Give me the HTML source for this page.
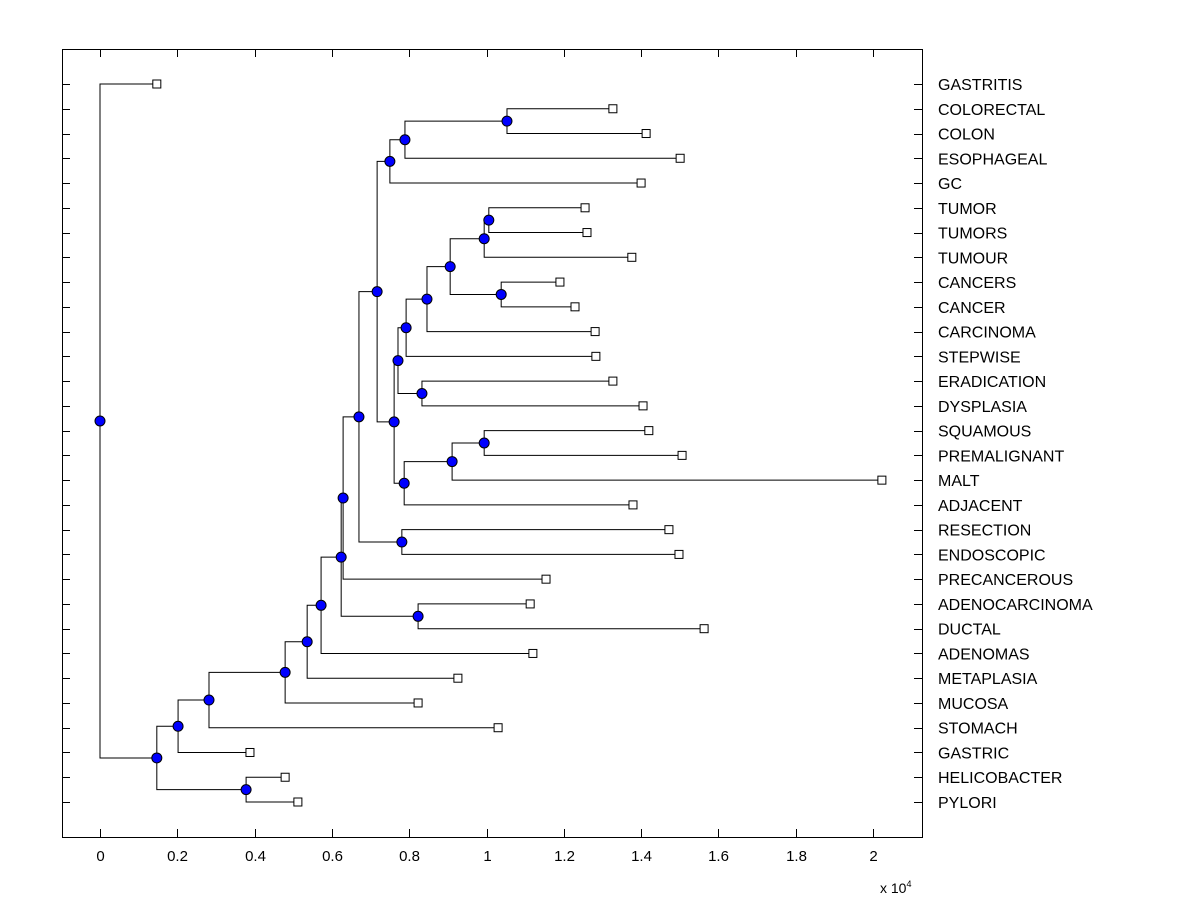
<!DOCTYPE html>
<html><head><meta charset="utf-8"><style>
body{margin:0;background:#fff}
svg text{font-family:"Liberation Sans",Arial,sans-serif}
</style></head><body>
<svg id="c" width="1200" height="900" xmlns="http://www.w3.org/2000/svg"></svg>
<script>
const leafNames=["GASTRITIS","COLORECTAL","COLON","ESOPHAGEAL","GC","TUMOR","TUMORS","TUMOUR","CANCERS","CANCER","CARCINOMA","STEPWISE","ERADICATION","DYSPLASIA","SQUAMOUS","PREMALIGNANT","MALT","ADJACENT","RESECTION","ENDOSCOPIC","PRECANCEROUS","ADENOCARCINOMA","DUCTAL","ADENOMAS","METAPLASIA","MUCOSA","STOMACH","GASTRIC","HELICOBACTER","PYLORI"];
const leafValues=[0.147,1.327,1.413,1.501,1.400,1.255,1.260,1.376,1.190,1.229,1.281,1.283,1.327,1.405,1.420,1.506,2.023,1.379,1.472,1.498,1.154,1.113,1.563,1.120,0.926,0.823,1.030,0.388,0.479,0.512];
// internal nodes: children refer to leaf names or "n<index>"
const nodeChildren=[["COLORECTAL","COLON"],["n0","ESOPHAGEAL"],["n1","GC"],["TUMOR","TUMORS"],["n3","TUMOUR"],["CANCERS","CANCER"],["n4","n5"],["n6","CARCINOMA"],["n7","STEPWISE"],["ERADICATION","DYSPLASIA"],["n8","n9"],["SQUAMOUS","PREMALIGNANT"],["n11","MALT"],["n12","ADJACENT"],["n10","n13"],["n2","n14"],["RESECTION","ENDOSCOPIC"],["n15","n16"],["n17","PRECANCEROUS"],["ADENOCARCINOMA","DUCTAL"],["n18","n19"],["n20","ADENOMAS"],["n21","METAPLASIA"],["n22","MUCOSA"],["n23","STOMACH"],["n24","GASTRIC"],["HELICOBACTER","PYLORI"],["n25","n26"],["GASTRITIS","n27"]];
const nodeHeights=[1.053,0.789,0.750,1.006,0.994,1.038,0.906,0.846,0.792,0.833,0.771,0.994,0.911,0.787,0.761,0.717,0.781,0.670,0.629,0.823,0.624,0.572,0.536,0.479,0.282,0.202,0.378,0.147,0];
const xTicks=[0,0.2,0.4,0.6,0.8,1,1.2,1.4,1.6,1.8,2];

const NS="http://www.w3.org/2000/svg",svg=document.getElementById('c');
const L=62,R=922,T=49,B=837;
const X=v=>100+v*386.5;
const Y=i=>84+i*(802-84)/(leafNames.length-1);
function mk(t,a,p){const e=document.createElementNS(NS,t);for(const k in a)e.setAttribute(k,a[k]);(p||svg).appendChild(e);return e;}
const frame=mk('rect',{x:L+0.5,y:T+0.5,width:R-L,height:B-T,fill:'none',stroke:'#000'});


xTicks.forEach(t=>{const x=Math.round(X(t))+0.5;
 mk('line',{x1:x,x2:x,y1:B,y2:B-8,stroke:'#000'});mk('line',{x1:x,x2:x,y1:T,y2:T+8,stroke:'#000'});
 const tx=mk('text',{x:x,y:861,'font-size':15,'text-anchor':'middle'});tx.textContent=String(t);
 
 });
const ex=mk('text',{x:880,y:893,'font-size':14});ex.innerHTML='x 10<tspan dy="-6" font-size="9">4</tspan>';


const pos={};
leafNames.forEach((n,i)=>{pos[n]={x:X(leafValues[i]),y:Y(i)};const y=Math.round(Y(i))+0.5;
 mk('line',{x1:L,x2:L+8,y1:y,y2:y,stroke:'#000'});mk('line',{x1:R-8,x2:R,y1:y,y2:y,stroke:'#000'});
 const tx=mk('text',{x:938,y:Y(i)+6,'font-size':16});tx.textContent=n;
 
 });
const g=mk('g',{});
nodeChildren.forEach((ch,k)=>{const x=X(nodeHeights[k]);const ps=ch.map(c=>pos[c]);const y=(ps[0].y+ps[1].y)/2;pos['n'+k]={x,y};
 ps.forEach(p=>mk('polyline',{points:`${x},${y} ${x},${p.y} ${p.x},${p.y}`,fill:'none',stroke:'#000','stroke-width':1},g));});
leafNames.forEach(n=>{const p=pos[n];const r=mk('rect',{x:p.x-4,y:p.y-4,width:8,height:8,fill:'#fff',stroke:'#000'});
 
 });
nodeChildren.forEach((c,k)=>{const p=pos['n'+k];const d=mk('circle',{cx:p.x,cy:p.y,r:5,fill:'#0000ff',stroke:'#000'});
 
 });
</script>
</body></html>
